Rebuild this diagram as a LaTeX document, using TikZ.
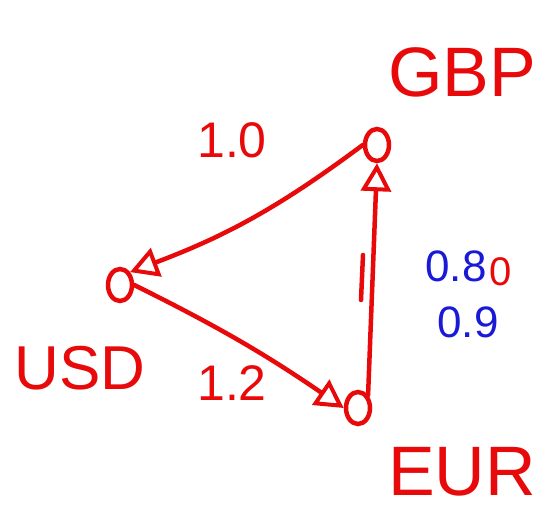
\documentclass[tikz,border=0pt]{standalone}
\usepackage{fontspec}
\setmainfont{Liberation Sans}
\usetikzlibrary{arrows.meta,shapes.geometric}
\definecolor{pen}{RGB}{232,10,10}
\definecolor{bpen}{RGB}{25,25,215}
\begin{document}
\begin{tikzpicture}[x=1pt,y=1pt,
  vert/.style={draw=pen,line width=4.5pt,ellipse,minimum width=24pt,minimum height=32pt,inner sep=0pt},
  edge/.style={draw=pen,line width=4.5pt,-{Triangle[open,length=28pt,width=30pt,line width=4pt]},line cap=round},
  big/.style={text=pen,font=\fontsize{70}{70}\selectfont},
  lab/.style={text=pen,font=\fontsize{50}{50}\selectfont},
  blab/.style={text=bpen,font=\fontsize{44}{44}\selectfont,inner sep=0pt}]
\useasboundingbox (0,0) rectangle (558,-513);
\node[vert] (usd) at (120,-285) {};
\node[vert] (gbp) at (377,-145) {};
\node[vert] (eur) at (358,-408) {};
\node[big] (tgbp) at (462,-72) {GBP};
\node[big,font=\fontsize{62}{62}\selectfont] (tusd) at (80,-368) {USD};
\node[big] (teur) at (462,-472) {EUR};
\draw[edge] (gbp.west) to[bend left=8] (usd.north east);
\draw[edge] (usd.east) to[bend left=4] (eur.west);
\draw[edge] (eur.north east) -- (gbp.south);
\draw[draw=pen,line width=4.5pt,line cap=round] (363,-255) -- (361,-300);
\node[lab] (l10) at (232,-140) {1.0};
\node[lab] (l12) at (232,-383) {1.2};
\node[blab] (l08) at (456,-266) {0.8};
\node[text=pen,font=\fontsize{40}{40}\selectfont,inner sep=0pt,anchor=west] (l0) at ([xshift=3pt,yshift=-6pt]l08.east) {0};
\node[blab] (l09) at (468,-322) {0.9};
\end{tikzpicture}
\end{document}
